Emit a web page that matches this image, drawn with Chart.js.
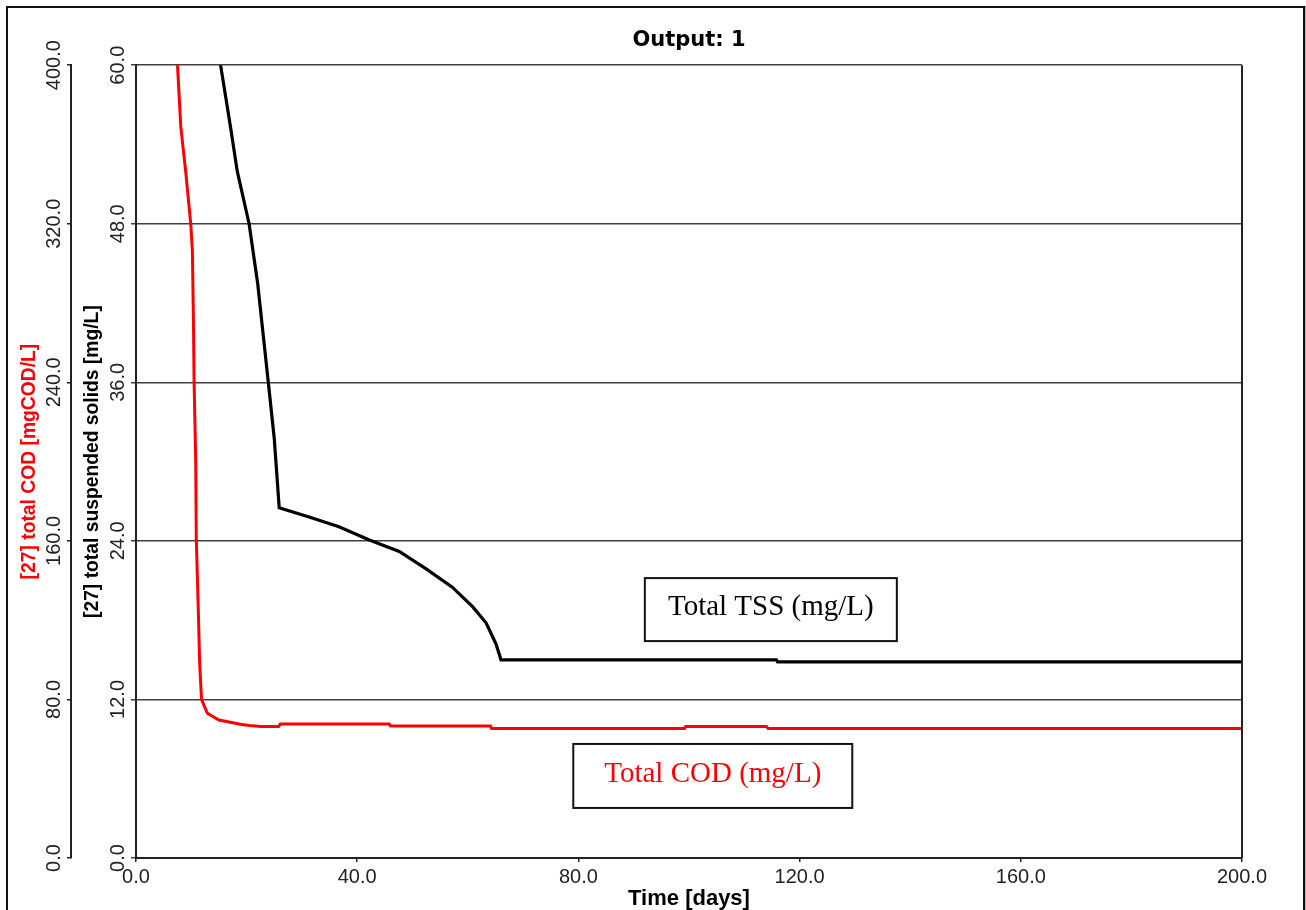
<!DOCTYPE html>
<html>
<head>
<meta charset="utf-8">
<script src="https://cdn.jsdelivr.net/npm/chart.js@4.4.0/dist/chart.umd.min.js"></script>
<style>
  html, body { margin: 0; padding: 0; background: #fff; overflow: hidden; }
  #wrap { position: relative; width: 1306px; height: 910px; }
  #frame { position: absolute; left: 6px; top: 6px; width: 1295px; height: 1000px;
           border: 2px solid #111; box-shadow: 2px 0 0 #b0b0b0; }
  canvas { position: absolute; left: 0; top: 0; }
</style>
</head>
<body>
<div id="wrap">
  <div id="frame"></div>
  <canvas id="outputChart" width="1306" height="910"></canvas>
</div>
<script>
// time in days
const codDays = [6.7, 7.5, 8.1, 9.0, 9.9, 10.2, 10.4, 10.5, 10.8, 10.9, 11.3, 11.5, 11.85, 12.9, 15.0, 19.1, 20.5, 22.6, 25.8,
                 26.1, 45.8, 46.0, 64.1, 64.3, 99.2, 99.4, 114.0, 114.3, 200];
const codValues = [440, 400, 369, 346, 320, 306, 268, 241, 200, 161, 122, 99, 80, 73, 69.6, 67.4, 66.8, 66.3, 66.3,
                   67.6, 67.6, 66.6, 66.6, 65.4, 65.4, 66.4, 66.4, 65.4, 65.4];

const tssDays = [12.0, 15.3, 17.1, 18.3, 20.45, 22.0, 23.9, 25.0, 25.9, 31.3, 36.7, 42.2, 47.6, 52.4, 57.2, 60.9, 63.3, 65.1, 66.0,
                 115.8, 116.0, 200];
const tssValues = [68, 60, 55.3, 52.0, 48.0, 43.5, 36.1, 31.75, 26.5, 25.8, 25.07, 24.06, 23.2, 21.9, 20.5, 19.0, 17.8, 16.2, 15.0,
                   15.0, 14.85, 14.85];

const timeTicks = [0, 40, 80, 120, 160, 200];
const codTicks = [0, 80, 160, 240, 320, 400];
const tssTicks = [0, 12, 24, 36, 48, 60];

// text boxes placed in data units
const notes = [
    {text: 'Total TSS (mg/L)', day: 114.8, value: 18.8, axis: 'tss', color: '#000000', w: 252, h: 63},
    {text: 'Total COD (mg/L)', day: 104.3, value: 41.4, axis: 'cod', color: '#ff0000', w: 279, h: 64}
];

const tickFont = {family: 'Liberation Sans', size: 20};
const oneDecimal = v => Number(v).toFixed(1);

const frameAndNotes = {
    id: 'frameAndNotes',
    afterDatasetsDraw(chart) {
        const {ctx, chartArea: a, scales} = chart;
        ctx.save();
        ctx.strokeStyle = '#222';
        ctx.lineWidth = 2;
        ctx.beginPath();
        ctx.moveTo(a.right, a.top);
        ctx.lineTo(a.right, a.bottom);
        ctx.stroke();

        notes.forEach(n => {
            let cx = scales.x.getPixelForValue(n.day);
            let cy = scales[n.axis].getPixelForValue(n.value);
            ctx.fillStyle = '#fff';
            ctx.fillRect(cx - n.w / 2, cy - n.h / 2, n.w, n.h);
            ctx.strokeStyle = '#111';
            ctx.lineWidth = 2;
            ctx.strokeRect(cx - n.w / 2, cy - n.h / 2, n.w, n.h);
            ctx.font = '29px "Liberation Serif"';
            ctx.fillStyle = n.color;
            ctx.textAlign = 'center';
            ctx.textBaseline = 'middle';
            ctx.fillText(n.text, cx, cy - 2);
        });
        ctx.restore();
    }
};

let ctx = document.getElementById('outputChart');
let outputChart = new Chart(ctx, {
    type: 'line',
    data: {
        datasets: [
            {
                label: '[27] total COD',
                data: codDays.map((d, i) => ({x: d, y: codValues[i]})),
                yAxisID: 'cod',
                borderColor: '#ff0000',
                backgroundColor: '#ff0000',
                borderWidth: 3,
                pointRadius: 0,
                tension: 0,
                fill: false
            },
            {
                label: '[27] total suspended solids',
                data: tssDays.map((d, i) => ({x: d, y: tssValues[i]})),
                yAxisID: 'tss',
                borderColor: '#000000',
                backgroundColor: '#000000',
                borderWidth: 3.2,
                pointRadius: 0,
                tension: 0,
                fill: false
            }
        ]
    },
    options: {
        responsive: false,
        animation: false,
        layout: {padding: {left: 8, right: 64, top: 0, bottom: 0}},
        plugins: {
            legend: {display: false},
            tooltip: {enabled: false},
            title: {
                display: true,
                text: 'Output: 1',
                fullSize: false,
                color: '#000',
                font: {family: 'DejaVu Sans', size: 21, weight: 'bold'},
                padding: {top: 28, bottom: 12}
            }
        },
        scales: {
            x: {
                type: 'linear',
                position: 'bottom',
                min: 0,
                max: 200,
                afterBuildTicks: scale => { scale.ticks = timeTicks.map(v => ({value: v})); },
                afterFit: scale => { scale.height = 52; },
                grid: {drawOnChartArea: false, tickLength: 4, color: '#222', lineWidth: 1.5},
                border: {color: '#222', width: 2},
                ticks: {callback: oneDecimal, font: tickFont, color: '#222', padding: 3, maxRotation: 0, autoSkip: false},
                title: {
                    display: true,
                    text: 'Time [days]',
                    color: '#000',
                    font: {family: 'Liberation Sans', size: 22, weight: 'bold'},
                    padding: {top: 0, bottom: -2}
                }
            },
            cod: {
                type: 'linear',
                position: 'left',
                weight: 2,
                min: 0,
                max: 400,
                afterBuildTicks: scale => { scale.ticks = codTicks.map(v => ({value: v})); },
                afterFit: scale => { scale.width = 63; },
                grid: {drawOnChartArea: false, tickLength: 4, color: '#222', lineWidth: 1.5},
                border: {color: '#222', width: 2},
                ticks: {callback: oneDecimal, font: tickFont, color: '#222', minRotation: 90, maxRotation: 90,
                        crossAlign: 'center', padding: -12.5, autoSkip: false},
                title: {
                    display: true,
                    text: '[27] total COD [mgCOD/L]',
                    color: '#ff0000',
                    font: {family: 'Liberation Sans', size: 19.3, weight: 'bold'},
                    padding: {top: 10.4, bottom: 0}
                }
            },
            tss: {
                type: 'linear',
                position: 'left',
                weight: 1,
                min: 0,
                max: 60,
                afterBuildTicks: scale => { scale.ticks = tssTicks.map(v => ({value: v})); },
                afterFit: scale => { scale.width = 65; },
                grid: {drawOnChartArea: true, tickLength: 5, color: '#404040', lineWidth: 1.5},
                border: {color: '#222', width: 2},
                ticks: {callback: oneDecimal, font: tickFont, color: '#222', minRotation: 90, maxRotation: 90,
                        crossAlign: 'center', padding: -7, autoSkip: false},
                title: {
                    display: true,
                    text: '[27] total suspended solids [mg/L]',
                    color: '#000',
                    font: {family: 'Liberation Sans', size: 19.3, weight: 'bold'},
                    padding: {top: 10.4, bottom: 0}
                }
            }
        }
    },
    plugins: [frameAndNotes]
});
</script>
</body>
</html>
